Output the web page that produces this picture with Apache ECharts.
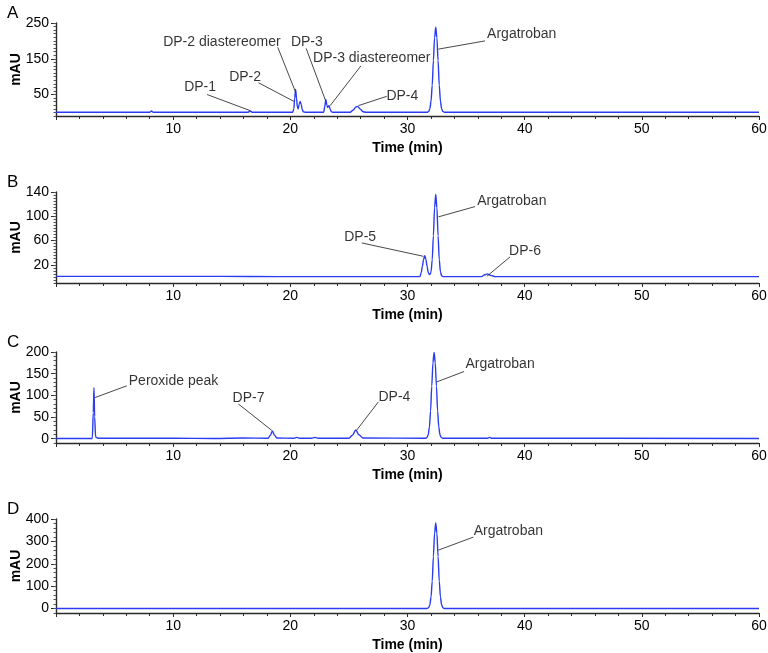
<!DOCTYPE html>
<html>
<head>
<meta charset="utf-8">
<script src="https://cdn.jsdelivr.net/npm/echarts@6/dist/echarts.min.js"></script>
<style>
  html, body { margin: 0; padding: 0; background: #fff; }
  #chart { width: 768px; height: 653px; }
</style>
</head>
<body>
<div id="chart"></div>
<script>
// 时间轴刻度（min）
const xLabels = [10, 20, 30, 40, 50, 60];

// 各色谱图 [时间, mAU]
const traceA = [
  [0, 0.5], [8.0, 0.5], [8.15, 4], [8.3, 0.5], [16.4, 0.5], [16.57, 4], [16.75, 0.5],
  [20.2, 0.5], [20.3, 10], [20.37, 40], [20.45, 64], [20.53, 40], [20.6, 15], [20.67, 10],
  [20.75, 22], [20.84, 31], [20.93, 22], [21.0, 10], [21.1, 2], [21.25, 0.5],
  [22.85, 0.5], [22.93, 15], [23.03, 36], [23.12, 20], [23.18, 14], [23.3, 19], [23.4, 9], [23.5, 2], [23.6, 0.5],
  [25.1, 0.5], [25.35, 6], [25.6, 15], [25.75, 17], [25.95, 10], [26.2, 2], [26.5, 0.5],
  [31.71, 0.5], [31.81, 3], [31.91, 10.5], [32.01, 32], [32.11, 76], [32.21, 145], [32.31, 209],
  [32.41, 238], [32.51, 209], [32.61, 145], [32.71, 76], [32.81, 32], [32.91, 10.5], [33.01, 3],
  [33.15, 0.5], [60, 0.5]
];
const traceB = [
  [0, 1], [14, 1], [19, 0.5], [31.0, 0.5], [31.07, 0.8], [31.17, 7], [31.27, 17.5], [31.37, 29],
  [31.47, 35], [31.57, 29], [31.67, 17.5], [31.77, 7.5], [31.87, 4], [31.95, 5], [32.01, 8.5],
  [32.11, 28.5], [32.21, 68], [32.31, 114], [32.41, 136], [32.51, 114], [32.61, 68], [32.71, 28.5],
  [32.81, 8.5], [32.91, 2], [33.05, 0.5], [36.3, 0.5], [36.6, 3.5], [36.8, 5], [37.1, 2.5],
  [37.5, 0.5], [60, 0.5]
];
const traceC = [
  [0, 0.5], [3.1, 0.5], [3.18, 60], [3.24, 118], [3.3, 50], [3.38, 4], [3.6, 1], [10, 1],
  [13.5, 0.5], [16, 1.5], [18.1, 1], [18.3, 8], [18.47, 18], [18.65, 8], [18.85, 1.5],
  [20.3, 1], [20.55, 3], [20.8, 1], [21.8, 1], [22.1, 3], [22.4, 1], [25.0, 1], [25.3, 8],
  [25.59, 20], [25.85, 9], [26.2, 1.5], [31.57, 1], [31.67, 3], [31.77, 9], [31.87, 27],
  [31.97, 64], [32.07, 121], [32.17, 175], [32.27, 199], [32.37, 175], [32.47, 121], [32.57, 64],
  [32.67, 27], [32.77, 9], [32.87, 3], [33.0, 1], [36.8, 1], [37.0, 3], [37.2, 1], [60, 0.5]
];
const traceD = [
  [0, 0], [31.65, 0], [31.71, 1], [31.81, 4], [31.91, 17], [32.01, 52], [32.11, 122], [32.21, 233],
  [32.31, 336], [32.41, 382], [32.51, 336], [32.61, 233], [32.71, 122], [32.81, 52], [32.91, 17],
  [33.01, 4], [33.15, 0], [60, 0]
];

// y轴标签
const yLabelsA = [50, 150, 250];
const yLabelsB = [20, 60, 100, 140];
const yLabelsC = [0, 50, 100, 150, 200];
const yLabelsD = [0, 100, 200, 300, 400];

// 标注：[文字, 文字位置t, v, 引线起点t, v, 引线终点t, v]
const notesA = [
  ['DP-1', 12.3, 72, 12.9, 50, 16.57, 5],
  ['DP-2', 16.14, 100, 17.28, 83, 20.3, 31],
  ['DP-2 diastereomer', 14.16, 197, 18.93, 182, 20.47, 55],
  ['DP-3', 21.41, 197, 21.35, 179, 23.03, 31],
  ['DP-3 diastereomer', 26.95, 151, 26.02, 130, 23.4, 19],
  ['DP-4', 29.56, 45, 28.23, 45, 25.81, 19],
  ['Argatroban', 39.75, 219, 36.62, 200, 32.64, 177]
];
const notesB = [
  ['DP-5', 25.96, 66, 26.1, 56, 31.36, 34],
  ['Argatroban', 38.9, 125, 35.77, 116, 32.64, 99],
  ['DP-6', 40.03, 42, 38.75, 33, 36.77, 1]
];
const notesC = [
  ['Peroxide peak', 10.03, 133, 6.05, 122, 3.34, 95],
  ['DP-7', 16.43, 94, 15.57, 80, 18.42, 19],
  ['DP-4', 28.88, 95, 27.52, 85, 25.67, 20],
  ['Argatroban', 37.9, 171, 34.83, 155, 32.5, 131]
];
const notesD = [
  ['Argatroban', 38.61, 344, 35.62, 319, 32.64, 261]
];

const panels = [
  { key: 'A', top: 23, height: 93, min: -10, max: 250, labels: yLabelsA, step: 10, trace: traceA, notes: notesA },
  { key: 'B', top: 192, height: 91, min: -10, max: 140, labels: yLabelsB, step: 5, trace: traceB, notes: notesB },
  { key: 'C', top: 352, height: 91, min: -10, max: 200, labels: yLabelsC, step: 10, trace: traceC, notes: notesC },
  { key: 'D', top: 519, height: 94, min: -20, max: 400, labels: yLabelsD, step: 20, trace: traceD, notes: notesD }
];

const FONT = '"Liberation Sans", Arial, sans-serif';
const AXIS_COLOR = '#2a2a2a';
const TEXT_COLOR = '#000';

function minorValues(p) {
  const out = [];
  for (let v = Math.ceil(p.min / p.step) * p.step; v <= p.max; v += p.step) out.push(v);
  return out;
}

const grid = [], xAxis = [], yAxis = [], series = [], title = [];

panels.forEach(function (p, i) {
  grid.push({ left: 56, right: 9, top: p.top, height: p.height, containLabel: false, outerBoundsMode: 'none' });
  title.push({
    text: p.key, left: 2, top: p.top - 23,
    textStyle: { fontFamily: FONT, fontSize: 17, fontWeight: 'normal', color: TEXT_COLOR }
  });
  xAxis.push({
    type: 'value', gridIndex: i, min: 0, max: 60, interval: 10,
    name: 'Time (min)', nameLocation: 'middle', nameGap: 25, nameMoveOverlap: false,
    nameTextStyle: { fontFamily: FONT, fontSize: 14, fontWeight: 'bold', color: TEXT_COLOR },
    axisLine: { onZero: false, lineStyle: { color: AXIS_COLOR, width: 1.4 } },
    axisTick: { length: 4, lineStyle: { color: AXIS_COLOR } },
    minorTick: { show: true, splitNumber: 5, length: 3, lineStyle: { color: AXIS_COLOR } },
    axisLabel: {
      fontFamily: FONT, fontSize: 14, color: TEXT_COLOR, margin: 6,
      formatter: function (v) { return xLabels.indexOf(v) >= 0 ? String(v) : ''; }
    },
    splitLine: { show: false }
  });
  yAxis.push({
    type: 'value', gridIndex: i, min: p.min, max: p.max,
    name: 'mAU', nameLocation: 'middle', nameGap: 33, nameRotate: 90, nameMoveOverlap: false,
    nameTextStyle: { fontFamily: FONT, fontSize: 14, fontWeight: 'bold', color: TEXT_COLOR },
    axisLine: { onZero: false, lineStyle: { color: AXIS_COLOR, width: 1.4 } },
    axisTick: { customValues: p.labels, length: 5, lineStyle: { color: AXIS_COLOR } },
    axisLabel: { customValues: p.labels, fontFamily: FONT, fontSize: 14, color: TEXT_COLOR, margin: 7 },
    splitLine: { show: false }
  });
  yAxis.push({
    type: 'value', gridIndex: i, min: p.min, max: p.max, position: 'left',
    axisLine: { show: false, onZero: false },
    axisTick: { customValues: minorValues(p), length: 2.5, lineStyle: { color: '#555' } },
    axisLabel: { show: false },
    splitLine: { show: false }
  });

  series.push({
    type: 'line', xAxisIndex: i, yAxisIndex: i * 2, data: p.trace,
    showSymbol: false, smooth: 0.3, smoothMonotone: 'x',
    lineStyle: { color: '#2a3cf2', width: 1.4 },
    markLine: {
      silent: true, symbol: 'none', label: { show: false },
      lineStyle: { color: '#333', width: 0.9, type: 'solid' },
      data: p.notes.map(function (n) { return [{ coord: [n[3], n[4]] }, { coord: [n[5], n[6]] }]; })
    }
  });
  series.push({
    type: 'scatter', xAxisIndex: i, yAxisIndex: i * 2, symbolSize: 0, silent: true,
    data: p.notes.map(function (n) { return { value: [n[1], n[2]], name: n[0] }; }),
    label: {
      show: true, position: 'inside', formatter: '{b}',
      fontFamily: FONT, fontSize: 14, color: TEXT_COLOR
    }
  });
});

const chart = echarts.init(document.getElementById('chart'));
chart.setOption({
  animation: false,
  backgroundColor: '#fff',
  title: title,
  grid: grid,
  xAxis: xAxis,
  yAxis: yAxis,
  series: series
});
</script>
</body>
</html>
